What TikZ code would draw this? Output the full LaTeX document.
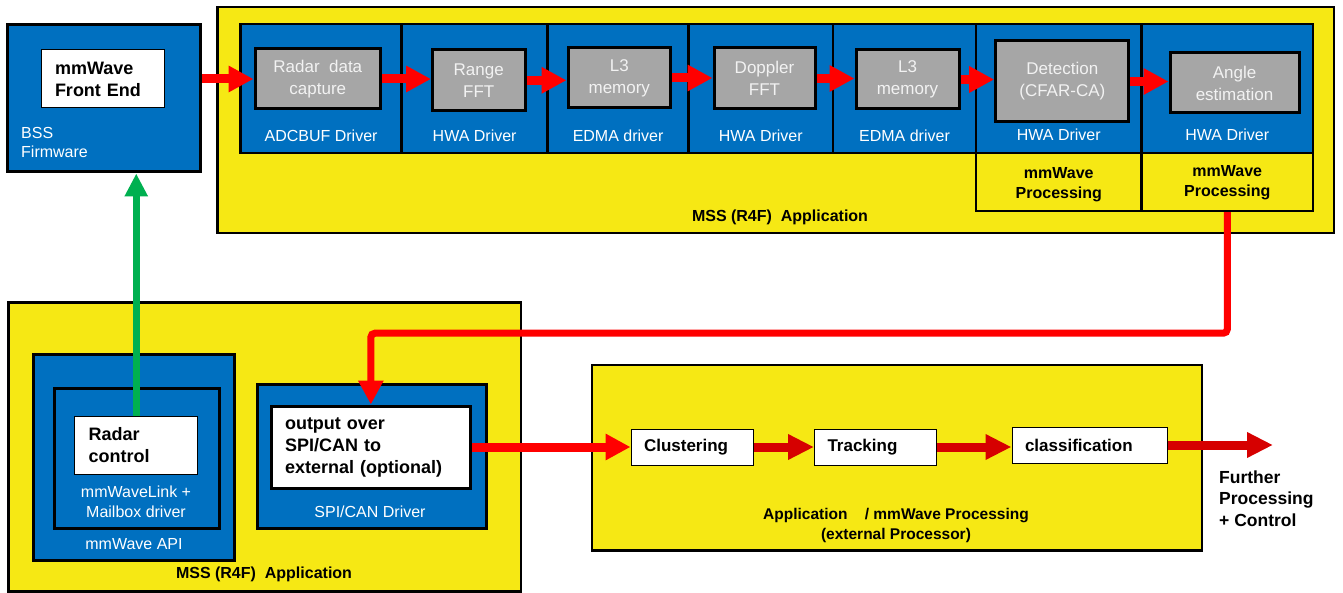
\documentclass[tikz,border=0pt]{standalone}
\usepackage{fontspec}
\setmainfont{Liberation Sans}
\usetikzlibrary{arrows.meta}

\definecolor{tiblue}{RGB}{0,112,192}
\definecolor{tiyellow}{RGB}{246,232,20}
\definecolor{tigray}{RGB}{166,166,166}
\definecolor{tigreen}{RGB}{0,176,80}
\definecolor{tired}{RGB}{255,0,0}
\definecolor{tidarkred}{RGB}{214,0,0}

\begin{document}
\begin{tikzpicture}[x=1pt,y=-1pt]

    \tikzstyle{yellownode} = [draw, line width=2.5pt, fill=tiyellow, inner sep=0];
    \tikzstyle{bluenode} = [draw, line width=2.5pt, fill=tiblue, inner sep=0];
    \tikzstyle{graynode} = [draw, line width=3pt, fill=tigray, text={rgb,255:red,242;green,242;blue,242}, align=center, inner sep=0, font=\fontsize{17}{22}\selectfont];
    \tikzstyle{whitenode} = [draw, line width=1pt, fill=white, align=left, inner xsep=14pt, inner ysep=0, font=\bfseries\fontsize{18}{22}\selectfont];
    \tikzstyle{stepnode} = [draw, line width=1pt, fill=white, align=left, inner xsep=13pt, inner ysep=0, font=\bfseries\fontsize{17}{20}\selectfont];
    \tikzstyle{bluelabel} = [text=white, align=center, inner sep=0, font=\fontsize{16}{19.5}\selectfont];
    \tikzstyle{boldlabel} = [align=center, inner sep=0, font=\bfseries\fontsize{16}{19.5}\selectfont];
    \tikzstyle{arrow} = [line width=9pt, tired, -{Triangle[length=25pt, width=25pt]}];
    \tikzstyle{darkarrow} = [line width=9pt, tidarkred, -{Triangle[length=26pt, width=24pt]}];
    \tikzstyle{longarrow} = [line width=7pt, tired, rounded corners=4pt, -{Triangle[length=24pt, width=24pt]}];
    \tikzstyle{greenarrow} = [line width=7.5pt, tigreen, -{Triangle[length=23pt, width=22pt]}];

    \useasboundingbox (0,0) rectangle (1343,593);

    % Top - Pipeline
    \node[yellownode, minimum width=1116.5pt, minimum height=226pt] (MSST) at (775.75,120) {};
    \node[boldlabel] (MSSTL) at (780,217) {MSS (R4F)\ \ Application};

    \node[bluenode, line width=3pt, minimum width=193pt, minimum height=147pt] (BSS) at (104,98.5) {};
    \node[whitenode, text width=95pt, minimum height=58pt] (FE) at (102.5,79) {mmWave\\Front End};
    \node[bluelabel, anchor=west, align=left] (BSSL) at (21,142.5) {BSS\\Firmware};

    \node[bluenode, minimum width=161pt, minimum height=129pt] (C1) at (321.1,88.5) {};
    \node[bluenode, minimum width=146.1pt, minimum height=129pt] (C2) at (474.65,88.5) {};
    \node[bluenode, minimum width=140.8pt, minimum height=129pt] (C3) at (618.1,88.5) {};
    \node[bluenode, minimum width=144.5pt, minimum height=129pt] (C4) at (760.75,88.5) {};
    \node[bluenode, minimum width=143pt, minimum height=129pt] (C5) at (904.5,88.5) {};
    \node[bluenode, minimum width=165.6pt, minimum height=129pt] (C6) at (1058.8,88.5) {};
    \node[bluenode, minimum width=171.4pt, minimum height=129pt] (C7) at (1227.3,88.5) {};

    \node[yellownode, minimum width=165.6pt, minimum height=58pt] (P6) at (1058.8,182) {};
    \node[yellownode, minimum width=171.4pt, minimum height=58pt] (P7) at (1227.3,182) {};
    \node[boldlabel] (P6L) at (1058.8,184.5) {mmWave\\Processing};
    \node[boldlabel] (P7L) at (1227.3,182.5) {mmWave\\Processing};

    \node[graynode, minimum width=125.6pt, minimum height=60pt] (G1) at (317.8,79) {Radar\ \ data\\capture};
    \node[graynode, minimum width=92.5pt, minimum height=60.7pt] (G2) at (478.75,80.3) {Range\\FFT};
    \node[graynode, minimum width=102.6pt, minimum height=60pt] (G3) at (619.3,78) {L3\\memory};
    \node[graynode, minimum width=101pt, minimum height=61pt] (G4) at (764.5,78.5) {Doppler\\FFT};
    \node[graynode, minimum width=103pt, minimum height=59pt] (G5) at (907.5,79.5) {L3\\memory};
    \node[graynode, minimum width=133.3pt, minimum height=81pt] (G6) at (1062.3,81.5) {Detection\\(CFAR-CA)};
    \node[graynode, minimum width=129pt, minimum height=60pt] (G7) at (1234.5,83) {Angle\\estimation};

    \node[bluelabel] (C1L) at (321.1,136) {ADCBUF Driver};
    \node[bluelabel] (C2L) at (474.65,136) {HWA Driver};
    \node[bluelabel] (C3L) at (618.1,136) {EDMA\ driver};
    \node[bluelabel] (C4L) at (760.75,136) {HWA Driver};
    \node[bluelabel] (C5L) at (904.5,136) {EDMA\ driver};
    \node[bluelabel] (C6L) at (1058.8,135) {HWA Driver};
    \node[bluelabel] (C7L) at (1227.3,135) {HWA Driver};
    % Top - Pipeline

    % Bottom - MSS
    \node[yellownode, minimum width=512.6pt, minimum height=289pt] (MSSB) at (264.7,447.2) {};
    \node[boldlabel] (MSSBL) at (264,574) {MSS (R4F)\ \ Application};

    \node[bluenode, line width=3pt, minimum width=200.9pt, minimum height=206.7pt] (API) at (134.15,457.35) {};
    \node[bluenode, line width=3pt, minimum width=164.3pt, minimum height=140pt] (LINK) at (136.85,458) {};
    \node[whitenode, text width=95.3pt, minimum height=58pt] (RC) at (136.25,445) {Radar\\control};
    \node[bluelabel] (LINKL) at (136,502) {mmWaveLink +\\Mailbox driver};
    \node[bluelabel] (APIL) at (134,544) {mmWave API};

    \node[bluenode, line width=3pt, minimum width=229pt, minimum height=144pt] (SPI) at (371.5,456) {};
    \node[whitenode, line width=3pt, text width=171.7pt, minimum height=82pt] (OUT) at (370.85,447) {output over\\SPI/CAN to\\external (optional)};
    \node[bluelabel] (SPIL) at (370,512) {SPI/CAN Driver};
    % Bottom - MSS

    % Right - External
    \node[yellownode, minimum width=610pt, minimum height=185.7pt] (EXT) at (897,457.85) {};
    \node[stepnode, text width=96.7pt, minimum height=36pt] (CL) at (692.35,447) {Clustering};
    \node[stepnode, text width=96.2pt, minimum height=36pt] (TR) at (875.6,447) {Tracking};
    \node[stepnode, text width=129pt, minimum height=36pt] (CA) at (1089.5,445) {classification};
    \node[boldlabel, font=\bfseries\fontsize{15.5}{20}\selectfont] (EXTL) at (896,525) {Application\ \ \ \ /\ mmWave Processing\\(external Processor)};

    \coordinate (FP) at (1273,445);
    \node[boldlabel, anchor=west, align=left, font=\bfseries\fontsize{17.5}{21.5}\selectfont] (FPL) at (1219,498.5) {Further\\Processing\\+ Control};
    % Right - External

    \draw [arrow] (FE -| BSS.east) -- (FE -| G1.west);
    \draw [arrow] (G1.east) -- (G1.east -| G2.west);
    \draw [arrow] (G2.east) -- (G2.east -| G3.west);
    \draw [arrow] (G3.east) -- (G3.east -| G4.west);
    \draw [arrow] (G4.east) -- (G4.east -| G5.west);
    \draw [arrow] (G5.east) -- (G5.east -| G6.west);
    \draw [arrow] (G6.east) -- (G6.east -| G7.west);

    \draw [longarrow] (P7.south) -- ++(0,121) -| (OUT.north);
    \draw [greenarrow] (RC.north) -- (RC.north |- BSS.south);

    \draw [arrow] (OUT.east) -- (OUT.east -| CL.west);
    \draw [darkarrow] (CL.east) -- (CL.east -| TR.west);
    \draw [darkarrow] (TR.east) -- (TR.east -| CA.west);
    \draw [darkarrow] (CA.east) -- (FP);

\end{tikzpicture}
\end{document}
